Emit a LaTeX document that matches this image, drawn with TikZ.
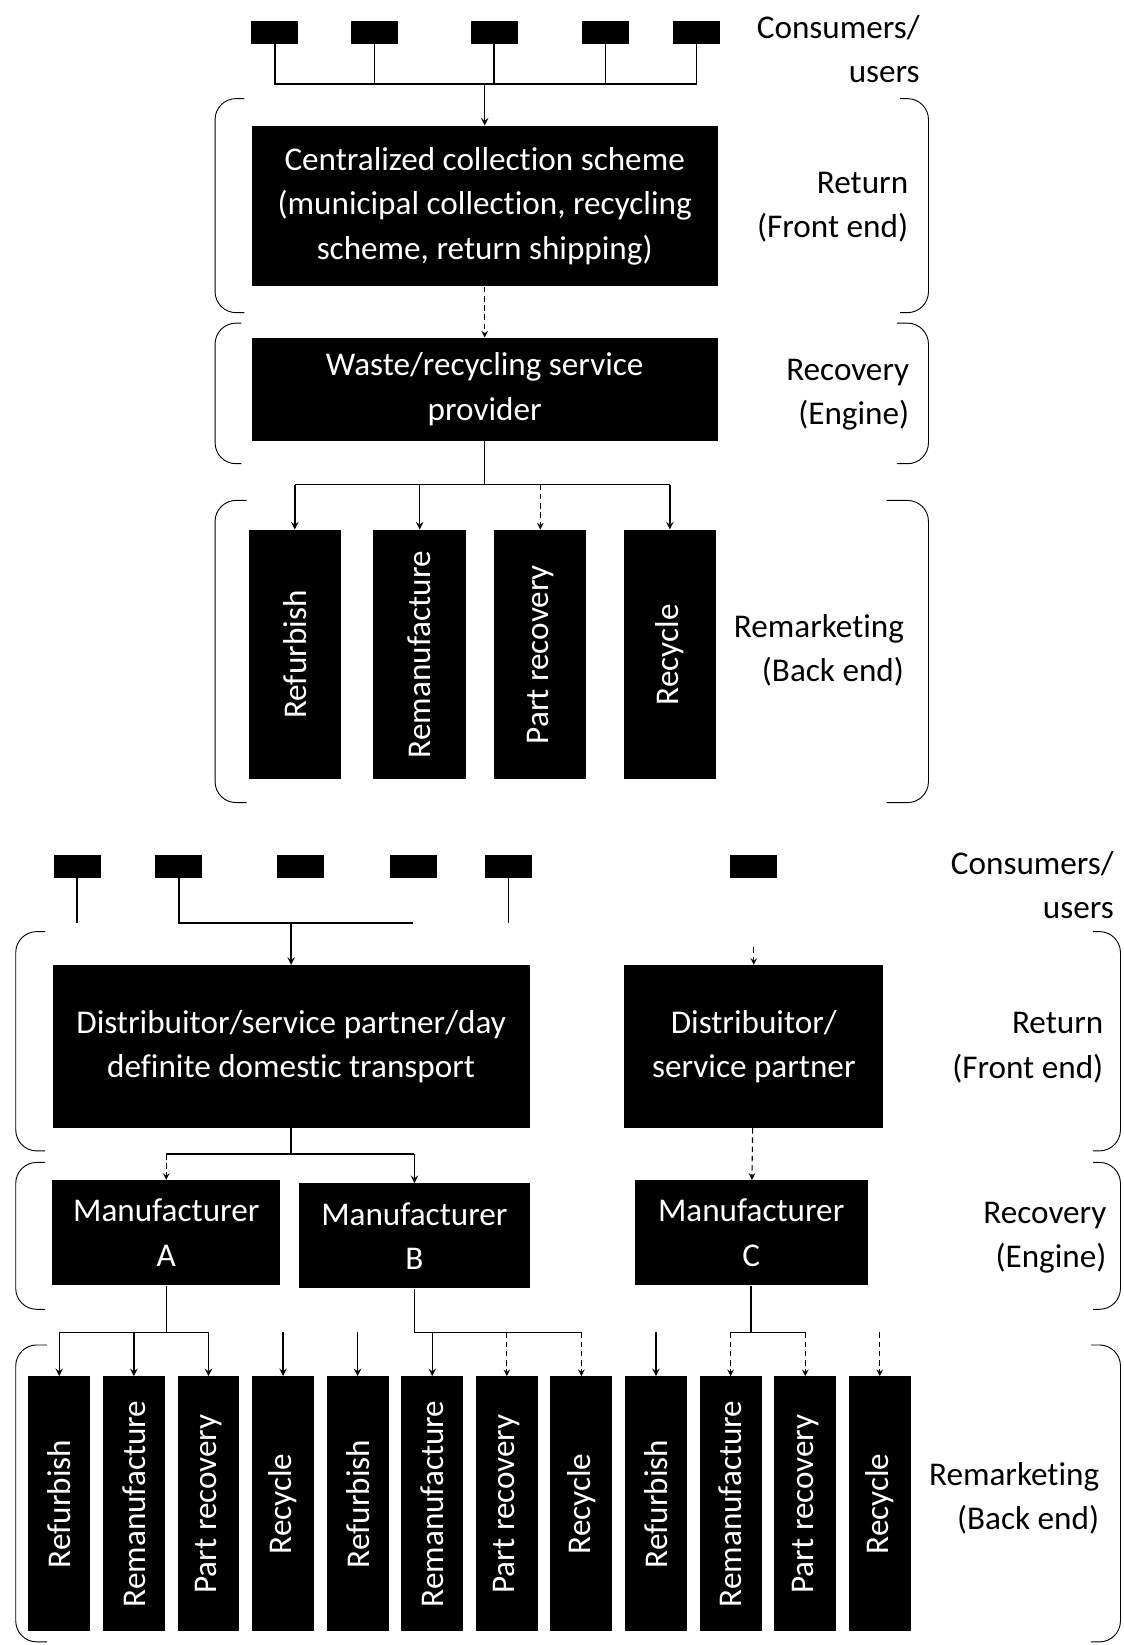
\documentclass[tikz,border=0pt]{standalone}
\usepackage{fontspec}
\setmainfont{Carlito}[Ligatures=CommonOff]
\usepackage{tikz}
\usetikzlibrary{arrows, calc}
\newcommand{\boxfont}{\fontsize{18}{24}\selectfont}

\begin{document}
\begin{tikzpicture}[
    x=0.02cm, y=-0.02cm,
    box/.style={rectangle, fill=black, text=white, align=center, inner sep=0pt, font=\boxfont},
    flatbox/.style={box, execute at begin node={\rule{0pt}{17pt}}},
    user/.style={rectangle, fill=black, minimum width=0.9cm, minimum height=0.44cm, inner sep=0pt},
    tallbox/.style={box, rotate=90, minimum width=4.76cm, minimum height=1.76cm},
    thinbox/.style={box, rotate=90, minimum width=4.86cm, minimum height=1.18cm},
    stage/.style={align=right, anchor=east, inner sep=0pt, font=\boxfont},
    link/.style={line width=0.8pt},
    arrow/.style={->, >=stealth, line width=0.8pt},
    faint/.style={densely dashed, line width=0.6pt},
    bracket/.style={line width=0.5pt, rounded corners=0.4cm}
]
\useasboundingbox (0,0) rectangle (1071,1568);

% Centralized collection
\foreach \n/\x in {1/262, 2/357, 3/471, 4/577, 5/664}
    \node[user] (u\n) at (\x,31) {};

\node[flatbox, minimum width=8.88cm, minimum height=3.06cm] (coll) at (462,196.5) {Centralized collection scheme\\(municipal collection, recycling\\scheme, return shipping)};
\node[flatbox, minimum width=8.88cm, minimum height=1.96cm] (waste) at (462,371) {Waste/recycling service\\provider};

\node[tallbox] (r1) at (281,624) {Refurbish};
\node[tallbox] (r2) at (400,624) {Remanufacture};
\node[tallbox] (r3) at (515,624) {Part recovery};
\node[tallbox] (r4) at (638.5,624) {Recycle};

\coordinate (tbus) at (462,80);
\coordinate (wbus) at (462,462);

\draw[link] (u1.south) |- (u5.south |- tbus) -- (u5.south);
\foreach \n in {2,3,4}
    \draw[link] (u\n.south) -- (u\n.south |- tbus);
\draw[arrow] (tbus) -- (coll.north);
\draw[arrow, faint] (coll) -- (waste);
\draw[link] (waste.south) -- (wbus);
\draw[link] (r1.east |- wbus) -- (r4.east |- wbus);
\foreach \n in {1,2,4}
    \draw[arrow] (r\n.east |- wbus) -- (r\n.east);
\draw[arrow, faint] (r3.east |- wbus) -- (r3.east);

\node[stage] (cons1) at (877,46.5) {Consumers/\\users};
\node[stage] (ret1) at (866,197.5) {Return\\(Front end)};
\node[stage] (rec1) at (867,376) {Recovery\\(Engine)};
\node[stage] (mkt1) at (862,620) {Remarketing\\(Back end)};

\draw[bracket] (233,94) -- (205,94) -- (205,298) -- (233,298);
\draw[bracket] (858,94) -- (885,94) -- (885,298) -- (858,298);
\draw[bracket] (230,308) -- (205,308) -- (205,442) -- (230,442);
\draw[bracket] (855,308) -- (885,308) -- (885,442) -- (855,442);
\draw[bracket] (235,477) -- (205,477) -- (205,765) -- (235,765);
\draw[bracket] (845,477) -- (885,477) -- (885,765) -- (845,765);

% Decentralized collection
\foreach \n/\x in {1/73.5, 2/170.5, 3/286.5, 4/394, 5/484.5, 6/718.5}
    \node[user] (d\n) at (\x,826) {};

\node[flatbox, minimum width=9.1cm, minimum height=3.1cm] (dist1) at (277.5,997.5) {Distribuitor/service partner/day\\definite domestic transport};
\node[flatbox, minimum width=4.94cm, minimum height=3.1cm] (dist2) at (718.5,997.5) {Distribuitor/\\service partner};
\node[flatbox, minimum width=4.34cm, minimum height=2cm] (manA) at (158.5,1175) {Manufacturer\\A};
\node[flatbox, minimum width=4.4cm, minimum height=2cm] (manB) at (395,1178) {Manufacturer\\B};
\node[flatbox, minimum width=4.44cm, minimum height=2cm] (manC) at (716,1175) {Manufacturer\\C};

\foreach \n/\lbl in {1/Refurbish, 2/Remanufacture, 3/Part recovery, 4/Recycle,
                     5/Refurbish, 6/Remanufacture, 7/Part recovery, 8/Recycle,
                     9/Refurbish, 10/Remanufacture, 11/Part recovery, 12/Recycle}
    \node[thinbox] (b\n) at ({56.5+71.1*(\n-1)},1433.5) {\lbl};

\coordinate (dbus) at (277.5,880);
\coordinate (dtip) at (718.5,903);
\coordinate (mbus) at (277.5,1100);
\coordinate (abus) at (158.5,1270);
\coordinate (bbus) at (395,1270);
\coordinate (cbus) at (716,1270);

\draw[link] (d1.south) -- (d1.south |- dbus);
\draw[link] (d5.south) -- (d5.south |- dbus);
\draw[link] (d2.south) |- (d4.south |- dbus);
\draw[arrow] (dbus) -- (dist1.north);
\draw[arrow, faint] (dtip) -- (dist2.north);

\draw[link] (dist1.south) -- (mbus);
\draw[link] (manA.north |- mbus) -- (manB.north |- mbus);
\draw[arrow, faint] (manA.north |- mbus) -- (manA.north);
\draw[arrow] (manB.north |- mbus) -- (manB.north);
\draw[arrow, faint] (dist2) -- (manC);

\draw[link] (manA.south) -- (abus);
\draw[link] (b1.east |- abus) -- (b3.east |- abus);
\foreach \n in {1,...,5}
    \draw[arrow] (b\n.east |- abus) -- (b\n.east);

\draw[link] (manB.south) -- (bbus) -- (b8.east |- bbus);
\draw[arrow] (b6.east |- bbus) -- (b6.east);
\foreach \n in {7,8}
    \draw[arrow, faint] (b\n.east |- bbus) -- (b\n.east);

\draw[arrow] (b9.east |- cbus) -- (b9.east);
\draw[link] (manC.south) -- (cbus);
\draw[link] (b10.east |- cbus) -- (b11.east |- cbus);
\foreach \n in {10,11,12}
    \draw[arrow, faint] (b\n.east |- cbus) -- (b\n.east);

\node[stage] (cons2) at (1062,844) {Consumers/\\users};
\node[stage] (ret2) at (1052,998.5) {Return\\(Front end)};
\node[stage] (rec2) at (1055,1180) {Recovery\\(Engine)};
\node[stage] (mkt2) at (1048,1428) {Remarketing\\(Back end)};

\draw[bracket] (43,888) -- (15,888) -- (15,1097) -- (43,1097);
\draw[bracket] (1042,888) -- (1068,888) -- (1068,1097) -- (1042,1097);
\draw[bracket] (43,1108) -- (15,1108) -- (15,1248) -- (43,1248);
\draw[bracket] (1042,1108) -- (1068,1108) -- (1068,1248) -- (1042,1248);
\draw[bracket] (45,1282) -- (15,1282) -- (15,1565) -- (45,1565);
\draw[bracket] (1040,1282) -- (1068,1282) -- (1068,1565) -- (1040,1565);

\end{tikzpicture}
\end{document}
